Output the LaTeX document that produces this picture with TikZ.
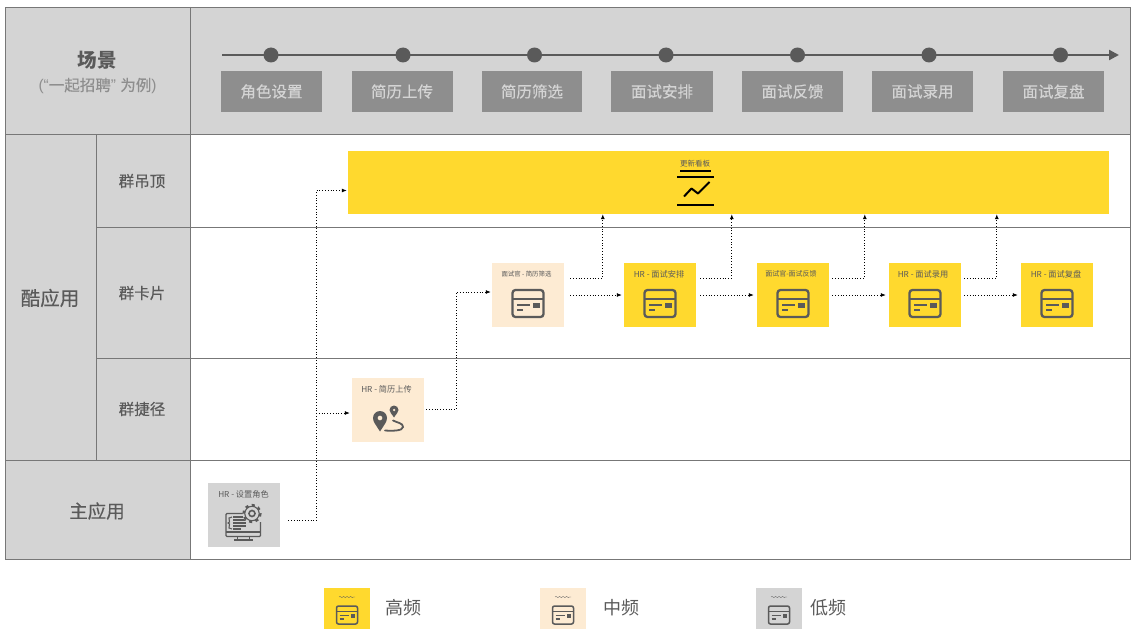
\documentclass[tikz,border=0pt]{standalone}
\usepackage{fontspec}
\setmainfont{Noto Sans CJK SC}
\newfontfamily\medfont[FakeBold=0.35]{Noto Sans CJK SC}
\newfontfamily\narrowfont{Liberation Sans}
\usetikzlibrary{arrows.meta, decorations.pathmorphing}

\definecolor{highfreq}{HTML}{FFD92E}
\definecolor{midfreq}{HTML}{FDEBD3}
\definecolor{lowfreq}{HTML}{D4D4D4}
\definecolor{stagegray}{HTML}{8E8E8E}
\definecolor{gridgray}{HTML}{777777}
\definecolor{inkgray}{HTML}{5A5A5A}

\begin{document}
\begin{tikzpicture}[x=1pt, y=-1pt]
    \tikzset{
        headtext/.style={font=\medfont\fontsize{#1}{#1}\selectfont, text=inkgray, inner sep=0pt},
        stagebox/.style={fill=stagegray, minimum height=41pt, inner sep=0pt, text=lowfreq,
            font=\medfont\fontsize{15.5}{16}\selectfont},
        stagedot/.style={circle, fill=inkgray, minimum size=15pt, inner sep=0pt},
        card/.style={minimum width=72pt, minimum height=64pt, inner sep=0pt},
        cardlabel/.style={font=\fontsize{#1}{#1}\selectfont, text=inkgray, inner sep=0pt},
        cardlabel/.default=7,
        legendbox/.style={minimum width=46pt, minimum height=41pt, inner sep=0pt},
        legendtext/.style={font=\fontsize{18}{18}\selectfont, text=inkgray, inner sep=0pt},
        flow/.style={dotted, line width=0.8pt, black, -{Latex[length=5pt, width=4pt]}},
        pics/cardicon/.style={code={
            \draw[inkgray, line width=2.3pt, rounded corners=3pt] (-15.5,-13.5) rectangle (15.5,13.5);
            \draw[inkgray, line width=2pt] (-15.5,-5) -- (15.5,-5);
            \draw[inkgray, line width=2pt] (-11,1) -- (2,1);
            \draw[inkgray, line width=2pt] (-11,6) -- (-5,6);
            \fill[inkgray] (5,-1) rectangle (11.5,4);
        }},
        pics/smallcardicon/.style={code={
            \draw[inkgray, line width=1.5pt, rounded corners=2pt] (-10.5,-9) rectangle (10.5,9);
            \draw[inkgray, line width=1.3pt] (-10.5,-3.5) -- (10.5,-3.5);
            \draw[inkgray, line width=1.3pt] (-7.5,0.5) -- (1.5,0.5);
            \draw[inkgray, line width=1.3pt] (-7.5,4) -- (-3.5,4);
            \fill[inkgray] (3.5,-0.8) rectangle (8,2.6);
        }},
        pics/squiggle/.style={code={
            \draw[inkgray, line width=0.4pt, decorate, decoration={snake, amplitude=0.5pt, segment length=3.5pt}] (-8,0) -- (8,0);
        }},
    }

    \useasboundingbox (0,0) rectangle (1136,634);
    \fill[white] (0,0) rectangle (1136,634);

    % Table
    \fill[lowfreq] (5,7) rectangle (1130,134);
    \fill[lowfreq] (5,134) rectangle (190,559);
    \draw[gridgray, line width=0.9pt] (5,7) rectangle (1130,559);
    \draw[gridgray, line width=0.9pt] (190,7) -- (190,559);
    \draw[gridgray, line width=0.9pt] (96,134) -- (96,460);
    \draw[gridgray, line width=0.9pt] (5,134) -- (1130,134);
    \draw[gridgray, line width=0.9pt] (96,227) -- (1130,227);
    \draw[gridgray, line width=0.9pt] (96,358) -- (1130,358);
    \draw[gridgray, line width=0.9pt] (5,460) -- (1130,460);

    % Row titles
    \node[font=\bfseries\fontsize{19.5}{20}\selectfont, text=inkgray, inner sep=0pt] (scene) at (97,60) {场景};
    \node[font=\medfont\fontsize{15.5}{16}\selectfont, text=stagegray, inner sep=0pt] (sceneNote) at (97.5,86) {{\narrowfont(“}一起招聘{\narrowfont” }为例{\narrowfont)}};
    \node[headtext=19.5] (coolApp) at (50,298) {酷应用};
    \node[headtext=15.5] (groupTop) at (142,181) {群吊顶};
    \node[headtext=15.5] (groupCard) at (142,293) {群卡片};
    \node[headtext=15.5] (groupShort) at (142,409) {群捷径};
    \node[headtext=18.5] (mainApp) at (97,511) {主应用};

    % Timeline
    \coordinate (lineStart) at (222,55);
    \coordinate (lineEnd) at (1119,55);
    \draw[inkgray, line width=2.2pt, -{Stealth[length=10pt, width=10pt, inset=0pt]}] (lineStart) -- (lineEnd);
    \foreach \name/\dotx/\boxx/\boxw/\boxt in {
        a/271/271.5/101/角色设置, b/403/402/101/简历上传, c/534.5/532/100/简历筛选,
        d/666/662/102/面试安排, e/797.5/792.5/101/面试反馈, f/929/922.5/101/面试录用,
        g/1060.5/1053.5/101/面试复盘} {
        \node[stagedot] (dot\name) at (\dotx,55) {};
        \node[stagebox, minimum width=\boxw pt] (stage\name) at (\boxx,91.5) {\boxt};
    }

    % Board
    \node[fill=highfreq, minimum width=761pt, minimum height=63pt, inner sep=0pt] (board) at (728.5,182.5) {};
    \node[cardlabel=7.5] (boardLabel) at (695,163.5) {更新看板};
    \draw[black, line width=2pt] (680,171) -- (711,171);
    \draw[black, line width=2pt] (677,177) -- (714,177);
    \draw[black, line width=2pt] (677,204.5) -- (714,204.5);
    \draw[black, line width=2pt, line join=round] (684,196.5) -- (691.5,188.5) -- (698,193.5) -- (709.5,182);

    % Cards
    \node[card, fill=lowfreq] (setRole) at (244,514.5) {};
    \node[cardlabel=8.2] (setRoleLabel) at (243.5,494) {HR - 设置角色};
    \node[card, fill=midfreq] (upload) at (388,409.5) {};
    \node[cardlabel=8.2] (uploadLabel) at (386.5,389) {HR - 简历上传};
    \node[card, fill=midfreq] (screen) at (528,295) {};
    \node[cardlabel=6.4] (screenLabel) at (526.5,274) {面试官 - 简历筛选};
    \node[card, fill=highfreq] (arrange) at (660,295) {};
    \node[cardlabel=8.2] (arrangeLabel) at (659,274) {HR - 面试安排};
    \node[card, fill=highfreq] (feedback) at (793,295) {};
    \node[cardlabel=7] (feedbackLabel) at (791,274) {面试官-面试反馈};
    \node[card, fill=highfreq] (hire) at (925,295) {};
    \node[cardlabel=8.2] (hireLabel) at (923,274) {HR - 面试录用};
    \node[card, fill=highfreq] (review) at (1057,295) {};
    \node[cardlabel=8.2] (reviewLabel) at (1056,274) {HR - 面试复盘};

    % Card icons
    \pic at (528,303.5) {cardicon};
    \pic at (660,303.5) {cardicon};
    \pic at (793,303.5) {cardicon};
    \pic at (925,303.5) {cardicon};
    \pic at (1057,303.5) {cardicon};

    % Pins
    \fill[inkgray, even odd rule] (380,431.5) .. controls (376,425) and (373,422) .. (373,418) arc[start angle=180, end angle=360, radius=7] .. controls (387,422) and (384,425) .. (380,431.5) (380,418) circle (2.5);
    \fill[inkgray, even odd rule] (394,417.5) .. controls (392,414) and (389.5,412.5) .. (389.5,410) arc[start angle=180, end angle=360, radius=4.5] .. controls (398.5,412.5) and (396,414) .. (394,417.5) (394,410) circle (1.5);
    \draw[inkgray, line width=1.8pt, line cap=round] (393,420.5) .. controls (398,423) and (403,423) .. (403,427) .. controls (403,431) and (392,431) .. (385,430.5);

    % Monitor and gear
    \draw[inkgray, line width=1.1pt, rounded corners=1pt] (244,513.5) -- (226,513.5) -- (226,536.5) -- (260.5,536.5) -- (260.5,522);
    \draw[inkgray, line width=1.1pt] (226,532) -- (260.5,532);
    \draw[inkgray, line width=1.1pt] (234,540) -- (253,540);
    \draw[inkgray, line width=1.1pt] (237.5,536.5) -- (237.5,540) (249.5,536.5) -- (249.5,540);
    \draw[inkgray, line width=1.1pt] (232,517) -- (229,518) -- (229.5,522) -- (228,523) -- (229.5,524) -- (229,528) -- (232,529);
    \foreach \rowy/\rowx in {517/244, 520/246, 523/246, 526/246, 529/241} {
        \draw[inkgray, line width=1.2pt] (233,\rowy) -- (\rowx,\rowy);
    }
    \fill[lowfreq] (252,513.5) circle (9.5);
    \draw[inkgray, line width=2.2pt, dash pattern=on 3pt off 3.6pt] (252,513.5) circle (8.5);
    \draw[inkgray, line width=1.1pt] (252,513.5) circle (7.2);
    \draw[inkgray, line width=1.6pt] (252,513.5) circle (3);

    % Links
    \coordinate (setRoleOut) at ([xshift=8pt,yshift=-6pt]setRole.east);
    \coordinate (branchUp) at (316,413);
    \draw[flow] (setRoleOut) -| (branchUp) |- ([xshift=-1pt,yshift=-8pt]board.west);
    \draw[flow] (branchUp) -- ([xshift=-2pt,yshift=-3.5pt]upload.west);
    \draw[flow] ([xshift=2pt]upload.east) -| (456,292) -- ([xshift=-1pt,yshift=3pt]screen.west);
    \draw[flow] ([xshift=6pt]screen.east) -- ([xshift=-2pt]arrange.west);
    \draw[flow] ([xshift=4pt]arrange.east) -- ([xshift=-3pt]feedback.west);
    \draw[flow] ([xshift=3pt]feedback.east) -- ([xshift=-3pt]hire.west);
    \draw[flow] ([xshift=3pt]hire.east) -- ([xshift=-3pt]review.west);
    \draw[flow] ([xshift=6pt,yshift=17pt]screen.east) -| ([xshift=255pt]board.south west);
    \draw[flow] ([xshift=4pt,yshift=17pt]arrange.east) -| ([xshift=384pt]board.south west);
    \draw[flow] ([xshift=3pt,yshift=17pt]feedback.east) -| ([xshift=517pt]board.south west);
    \draw[flow] ([xshift=3pt,yshift=17pt]hire.east) -| ([xshift=649pt]board.south west);

    % Legend
    \foreach \name/\boxx/\fillc/\textx/\labelt in {high/347/highfreq/403/高频, mid/563/midfreq/621/中频, low/779/lowfreq/828/低频} {
        \node[legendbox, fill=\fillc] (legend\name) at (\boxx,608.5) {};
        \pic at (\boxx,615) {smallcardicon};
        \pic at (\boxx,597) {squiggle};
        \node[legendtext] (legendText\name) at (\textx,608) {\labelt};
    }
\end{tikzpicture}
\end{document}
